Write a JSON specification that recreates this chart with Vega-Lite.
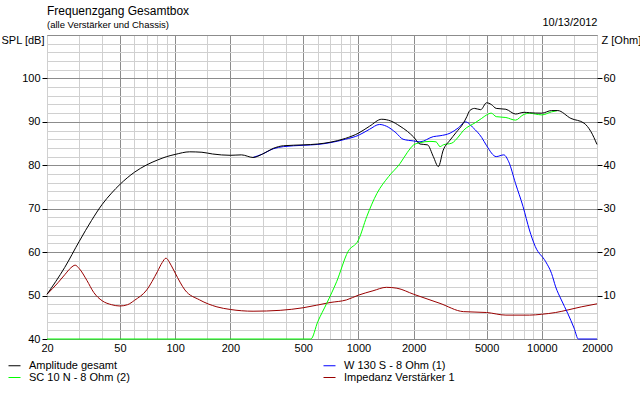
{
"$schema": "https://vega.github.io/schema/vega-lite/v6.json",
"width": 550, "height": 304,
"autosize": {"type": "none"},
"padding": {"left": 47, "top": 35, "right": 43, "bottom": 54},
"background": "#ffffff",
"config": {
  "font": "Liberation Sans",
  "view": {"stroke": "#7a7a7a", "strokeWidth": 1},
  "axis": {"labelFont": "Liberation Sans", "labelFontSize": 11, "labelColor": "#000000", "titleFont": "Liberation Sans", "titleFontSize": 11, "titleFontWeight": "normal", "titleColor": "#000000", "domain": false, "gridWidth": 1, "gridOpacity": 1}
},
"title": {"text": "Frequenzgang Gesamtbox", "subtitle": "(alle Verstärker und Chassis)", "anchor": "start", "frame": "group", "fontSize": 12, "fontWeight": "normal", "font": "Liberation Sans", "color": "#000000", "subtitleFontSize": 9.5, "subtitleColor": "#000000", "subtitleFont": "Liberation Sans", "subtitlePadding": 2, "offset": -14},
"datasets": {"d": [
{"s":"Amplitude gesamt","f":20,"v":50.3},{"s":"Amplitude gesamt","f":25,"v":56.5},{"s":"Amplitude gesamt","f":30,"v":62.5},{"s":"Amplitude gesamt","f":35,"v":67.3},{"s":"Amplitude gesamt","f":40,"v":71.0},{"s":"Amplitude gesamt","f":45,"v":73.6},{"s":"Amplitude gesamt","f":50,"v":75.6},{"s":"Amplitude gesamt","f":60,"v":78.4},{"s":"Amplitude gesamt","f":70,"v":80.1},{"s":"Amplitude gesamt","f":80,"v":81.2},{"s":"Amplitude gesamt","f":90,"v":82.0},{"s":"Amplitude gesamt","f":100,"v":82.5},{"s":"Amplitude gesamt","f":120,"v":83.1},{"s":"Amplitude gesamt","f":140,"v":83.0},{"s":"Amplitude gesamt","f":160,"v":82.6},{"s":"Amplitude gesamt","f":200,"v":82.3},{"s":"Amplitude gesamt","f":230,"v":82.4},{"s":"Amplitude gesamt","f":266,"v":81.8},{"s":"Amplitude gesamt","f":300,"v":82.6},{"s":"Amplitude gesamt","f":343,"v":83.9},{"s":"Amplitude gesamt","f":390,"v":84.5},{"s":"Amplitude gesamt","f":500,"v":84.7},{"s":"Amplitude gesamt","f":600,"v":84.9},{"s":"Amplitude gesamt","f":700,"v":85.3},{"s":"Amplitude gesamt","f":850,"v":86.2},{"s":"Amplitude gesamt","f":1000,"v":87.4},{"s":"Amplitude gesamt","f":1150,"v":89.0},{"s":"Amplitude gesamt","f":1338,"v":90.6},{"s":"Amplitude gesamt","f":1500,"v":90.2},{"s":"Amplitude gesamt","f":1685,"v":89.0},{"s":"Amplitude gesamt","f":1850,"v":87.8},{"s":"Amplitude gesamt","f":2000,"v":86.5},{"s":"Amplitude gesamt","f":2166,"v":84.9},{"s":"Amplitude gesamt","f":2380,"v":84.7},{"s":"Amplitude gesamt","f":2560,"v":82.0},{"s":"Amplitude gesamt","f":2727,"v":79.7},{"s":"Amplitude gesamt","f":2900,"v":83.5},{"s":"Amplitude gesamt","f":3160,"v":85.8},{"s":"Amplitude gesamt","f":3400,"v":87.5},{"s":"Amplitude gesamt","f":3733,"v":89.7},{"s":"Amplitude gesamt","f":3900,"v":91.2},{"s":"Amplitude gesamt","f":4046,"v":92.6},{"s":"Amplitude gesamt","f":4300,"v":93.1},{"s":"Amplitude gesamt","f":4640,"v":92.8},{"s":"Amplitude gesamt","f":5000,"v":94.4},{"s":"Amplitude gesamt","f":5300,"v":94.0},{"s":"Amplitude gesamt","f":5640,"v":93.1},{"s":"Amplitude gesamt","f":6370,"v":92.9},{"s":"Amplitude gesamt","f":7190,"v":91.8},{"s":"Amplitude gesamt","f":8000,"v":92.2},{"s":"Amplitude gesamt","f":8560,"v":92.1},{"s":"Amplitude gesamt","f":10000,"v":92.0},{"s":"Amplitude gesamt","f":11300,"v":92.6},{"s":"Amplitude gesamt","f":12200,"v":92.6},{"s":"Amplitude gesamt","f":14400,"v":90.8},{"s":"Amplitude gesamt","f":17000,"v":89.7},{"s":"Amplitude gesamt","f":18500,"v":87.8},{"s":"Amplitude gesamt","f":20000,"v":84.8},
{"s":"W 130 S - 8 Ohm (1)","f":266,"v":81.8},{"s":"W 130 S - 8 Ohm (1)","f":300,"v":82.6},{"s":"W 130 S - 8 Ohm (1)","f":343,"v":83.8},{"s":"W 130 S - 8 Ohm (1)","f":390,"v":84.3},{"s":"W 130 S - 8 Ohm (1)","f":500,"v":84.6},{"s":"W 130 S - 8 Ohm (1)","f":600,"v":84.8},{"s":"W 130 S - 8 Ohm (1)","f":700,"v":85.2},{"s":"W 130 S - 8 Ohm (1)","f":850,"v":86.0},{"s":"W 130 S - 8 Ohm (1)","f":1000,"v":86.9},{"s":"W 130 S - 8 Ohm (1)","f":1150,"v":88.3},{"s":"W 130 S - 8 Ohm (1)","f":1300,"v":89.4},{"s":"W 130 S - 8 Ohm (1)","f":1420,"v":89.0},{"s":"W 130 S - 8 Ohm (1)","f":1600,"v":87.5},{"s":"W 130 S - 8 Ohm (1)","f":1750,"v":86.0},{"s":"W 130 S - 8 Ohm (1)","f":2000,"v":85.6},{"s":"W 130 S - 8 Ohm (1)","f":2166,"v":85.4},{"s":"W 130 S - 8 Ohm (1)","f":2560,"v":86.6},{"s":"W 130 S - 8 Ohm (1)","f":2785,"v":86.8},{"s":"W 130 S - 8 Ohm (1)","f":3160,"v":87.4},{"s":"W 130 S - 8 Ohm (1)","f":3500,"v":88.6},{"s":"W 130 S - 8 Ohm (1)","f":3830,"v":90.0},{"s":"W 130 S - 8 Ohm (1)","f":4230,"v":88.6},{"s":"W 130 S - 8 Ohm (1)","f":4700,"v":86.4},{"s":"W 130 S - 8 Ohm (1)","f":5000,"v":84.5},{"s":"W 130 S - 8 Ohm (1)","f":5640,"v":82.0},{"s":"W 130 S - 8 Ohm (1)","f":6200,"v":82.4},{"s":"W 130 S - 8 Ohm (1)","f":6600,"v":80.8},{"s":"W 130 S - 8 Ohm (1)","f":7190,"v":75.8},{"s":"W 130 S - 8 Ohm (1)","f":7900,"v":70.5},{"s":"W 130 S - 8 Ohm (1)","f":8560,"v":65.1},{"s":"W 130 S - 8 Ohm (1)","f":9210,"v":61.3},{"s":"W 130 S - 8 Ohm (1)","f":10500,"v":57.8},{"s":"W 130 S - 8 Ohm (1)","f":11300,"v":55.1},{"s":"W 130 S - 8 Ohm (1)","f":11900,"v":52.0},{"s":"W 130 S - 8 Ohm (1)","f":12780,"v":49.0},{"s":"W 130 S - 8 Ohm (1)","f":13850,"v":45.9},{"s":"W 130 S - 8 Ohm (1)","f":15000,"v":42.5},{"s":"W 130 S - 8 Ohm (1)","f":15820,"v":40.0},{"s":"W 130 S - 8 Ohm (1)","f":20000,"v":40.0},
{"s":"SC 10 N - 8 Ohm (2)","f":20,"v":40.0},{"s":"SC 10 N - 8 Ohm (2)","f":550,"v":40.0},{"s":"SC 10 N - 8 Ohm (2)","f":600,"v":44.0},{"s":"SC 10 N - 8 Ohm (2)","f":671,"v":48.2},{"s":"SC 10 N - 8 Ohm (2)","f":760,"v":53.2},{"s":"SC 10 N - 8 Ohm (2)","f":876,"v":60.1},{"s":"SC 10 N - 8 Ohm (2)","f":1000,"v":62.8},{"s":"SC 10 N - 8 Ohm (2)","f":1110,"v":68.2},{"s":"SC 10 N - 8 Ohm (2)","f":1260,"v":73.5},{"s":"SC 10 N - 8 Ohm (2)","f":1460,"v":77.4},{"s":"SC 10 N - 8 Ohm (2)","f":1685,"v":80.4},{"s":"SC 10 N - 8 Ohm (2)","f":1850,"v":83.0},{"s":"SC 10 N - 8 Ohm (2)","f":2000,"v":84.7},{"s":"SC 10 N - 8 Ohm (2)","f":2166,"v":85.2},{"s":"SC 10 N - 8 Ohm (2)","f":2455,"v":85.5},{"s":"SC 10 N - 8 Ohm (2)","f":2650,"v":85.4},{"s":"SC 10 N - 8 Ohm (2)","f":2785,"v":84.3},{"s":"SC 10 N - 8 Ohm (2)","f":2900,"v":84.7},{"s":"SC 10 N - 8 Ohm (2)","f":3230,"v":85.1},{"s":"SC 10 N - 8 Ohm (2)","f":3500,"v":86.5},{"s":"SC 10 N - 8 Ohm (2)","f":3733,"v":88.0},{"s":"SC 10 N - 8 Ohm (2)","f":4330,"v":89.8},{"s":"SC 10 N - 8 Ohm (2)","f":4700,"v":90.8},{"s":"SC 10 N - 8 Ohm (2)","f":5000,"v":91.6},{"s":"SC 10 N - 8 Ohm (2)","f":5300,"v":92.0},{"s":"SC 10 N - 8 Ohm (2)","f":5640,"v":91.2},{"s":"SC 10 N - 8 Ohm (2)","f":6370,"v":91.0},{"s":"SC 10 N - 8 Ohm (2)","f":7190,"v":90.4},{"s":"SC 10 N - 8 Ohm (2)","f":7900,"v":91.6},{"s":"SC 10 N - 8 Ohm (2)","f":8560,"v":92.0},{"s":"SC 10 N - 8 Ohm (2)","f":9210,"v":91.8},{"s":"SC 10 N - 8 Ohm (2)","f":10000,"v":91.6},{"s":"SC 10 N - 8 Ohm (2)","f":11300,"v":92.3},{"s":"SC 10 N - 8 Ohm (2)","f":12200,"v":92.6},
{"s":"Impedanz Verstärker 1","f":20,"v":10.3},{"s":"Impedanz Verstärker 1","f":23,"v":13.0},{"s":"Impedanz Verstärker 1","f":25,"v":14.8},{"s":"Impedanz Verstärker 1","f":27,"v":16.4},{"s":"Impedanz Verstärker 1","f":28.5,"v":17.0},{"s":"Impedanz Verstärker 1","f":30,"v":16.2},{"s":"Impedanz Verstärker 1","f":33,"v":13.5},{"s":"Impedanz Verstärker 1","f":36,"v":10.7},{"s":"Impedanz Verstärker 1","f":40,"v":8.8},{"s":"Impedanz Verstärker 1","f":45,"v":7.9},{"s":"Impedanz Verstärker 1","f":50,"v":7.6},{"s":"Impedanz Verstärker 1","f":55,"v":7.9},{"s":"Impedanz Verstärker 1","f":60,"v":8.9},{"s":"Impedanz Verstärker 1","f":70,"v":11.3},{"s":"Impedanz Verstärker 1","f":80,"v":15.5},{"s":"Impedanz Verstärker 1","f":85,"v":17.6},{"s":"Impedanz Verstärker 1","f":89,"v":18.6},{"s":"Impedanz Verstärker 1","f":95,"v":17.0},{"s":"Impedanz Verstärker 1","f":100,"v":15.2},{"s":"Impedanz Verstärker 1","f":113,"v":11.3},{"s":"Impedanz Verstärker 1","f":136,"v":9.0},{"s":"Impedanz Verstärker 1","f":169,"v":7.4},{"s":"Impedanz Verstärker 1","f":200,"v":6.8},{"s":"Impedanz Verstärker 1","f":266,"v":6.4},{"s":"Impedanz Verstärker 1","f":374,"v":6.6},{"s":"Impedanz Verstärker 1","f":500,"v":7.2},{"s":"Impedanz Verstärker 1","f":700,"v":8.4},{"s":"Impedanz Verstärker 1","f":860,"v":9.0},{"s":"Impedanz Verstärker 1","f":1000,"v":10.1},{"s":"Impedanz Verstärker 1","f":1200,"v":11.1},{"s":"Impedanz Verstärker 1","f":1420,"v":11.9},{"s":"Impedanz Verstärker 1","f":1620,"v":11.7},{"s":"Impedanz Verstärker 1","f":2000,"v":10.3},{"s":"Impedanz Verstärker 1","f":2455,"v":9.0},{"s":"Impedanz Verstärker 1","f":2785,"v":8.2},{"s":"Impedanz Verstärker 1","f":3733,"v":6.3},{"s":"Impedanz Verstärker 1","f":5000,"v":6.1},{"s":"Impedanz Verstärker 1","f":6370,"v":5.5},{"s":"Impedanz Verstärker 1","f":8560,"v":5.5},{"s":"Impedanz Verstärker 1","f":10000,"v":5.7},{"s":"Impedanz Verstärker 1","f":11900,"v":6.1},{"s":"Impedanz Verstärker 1","f":13900,"v":6.7},{"s":"Impedanz Verstärker 1","f":16400,"v":7.4},{"s":"Impedanz Verstärker 1","f":20000,"v":8.1}
]},
"layer": [
  {
    "data": {"name": "d"},
    "transform": [{"filter": "datum.s === 'Impedanz Verstärker 1'"}],
    "mark": {"type": "line", "strokeWidth": 1, "interpolate": "monotone"},
    "encoding": {
      "x": {"field": "f", "type": "quantitative", "scale": {"type": "log", "domain": [20, 20000], "nice": false},
            "axis": {"orient": "top", "title": "10/13/2012", "labels": false, "ticks": false, "domain": false, "grid": false, "titleAnchor": "end", "titleAlign": "right", "titleBaseline": "middle", "titleX": 550, "titleY": -13, "titleAngle": 0}},
      "y": {"field": "v", "type": "quantitative", "scale": {"domain": [0, 70], "nice": false, "zero": false},
            "axis": {"orient": "right", "values": [10, 20, 30, 40, 50, 60], "grid": false, "title": "Z [Ohm]", "titleAngle": 0, "titleAlign": "left", "titleBaseline": "middle", "titleX": 4, "titleY": 5, "tickSize": 5, "tickColor": "#000000", "labelPadding": 1}},
      "color": {"field": "s", "type": "nominal",
            "scale": {"domain": ["Amplitude gesamt", "SC 10 N - 8 Ohm (2)", "W 130 S - 8 Ohm (1)", "Impedanz Verstärker 1"], "range": ["#000000", "#00ff00", "#0000ff", "#990000"]},
            "legend": {"title": null, "orient": "none", "legendX": -39, "legendY": 324, "columns": 2, "symbolType": "stroke", "symbolSize": 144, "symbolStrokeWidth": 1, "labelFontSize": 11, "labelFont": "Liberation Sans", "labelColor": "#000000", "labelOffset": 8, "columnPadding": 191, "rowPadding": 0, "padding": 0}}
    }
  },
  {
    "data": {"name": "d"},
    "encoding": {
      "x": {"field": "f", "type": "quantitative", "scale": {"type": "log", "domain": [20, 20000], "nice": false},
            "axis": {"orient": "bottom", "title": null, "values": [20,30,40,50,60,70,80,90,100,150,200,300,400,500,600,700,800,900,1000,1500,2000,3000,4000,5000,6000,7000,8000,9000,10000,15000,20000],
                     "labelExpr": "(datum.value == 20 || datum.value == 50 || datum.value == 100 || datum.value == 200 || datum.value == 500 || datum.value == 1000 || datum.value == 2000 || datum.value == 5000 || datum.value == 10000 || datum.value == 20000) ? datum.value + '' : ''",
                     "labelOverlap": false, "labelFlush": false, "ticks": false, "labelPadding": 3, "grid": true,
                     "gridColor": {"condition": {"test": "datum.value == 50 || datum.value == 100 || datum.value == 200 || datum.value == 500 || datum.value == 1000 || datum.value == 2000 || datum.value == 5000 || datum.value == 10000", "value": "#8c8c8c"}, "value": "#d0d0d0"}}},
      "y": {"field": "v", "type": "quantitative", "scale": {"domain": [40, 110], "nice": false, "zero": false},
            "axis": {"orient": "left", "title": "SPL [dB]", "titleAngle": 0, "titleAlign": "right", "titleBaseline": "middle", "titleX": -3, "titleY": 5,
                     "values": [40,42,44,46,48,50,52,54,56,58,60,62,64,66,68,70,72,74,76,78,80,82,84,86,88,90,92,94,96,98,100,102,104,106,108,110],
                     "labelExpr": "datum.value % 10 === 0 && datum.value < 110 ? datum.value + '' : ''",
                     "labelOverlap": false, "tickSize": 5, "labelPadding": 2,
                     "tickColor": {"condition": {"test": "datum.value % 10 === 0 && datum.value < 110", "value": "#000000"}, "value": "transparent"},
                     "grid": true,
                     "gridColor": {"condition": {"test": "datum.value % 10 === 0", "value": "#8c8c8c"}, "value": "#d0d0d0"}}},
      "color": {"field": "s", "type": "nominal",
            "scale": {"domain": ["Amplitude gesamt", "SC 10 N - 8 Ohm (2)", "W 130 S - 8 Ohm (1)", "Impedanz Verstärker 1"], "range": ["#000000", "#00ff00", "#0000ff", "#990000"]},
            "legend": {"title": null, "orient": "none", "legendX": -39, "legendY": 324, "columns": 2, "symbolType": "stroke", "symbolSize": 144, "symbolStrokeWidth": 1, "labelFontSize": 11, "labelFont": "Liberation Sans", "labelColor": "#000000", "labelOffset": 8, "columnPadding": 191, "rowPadding": 0, "padding": 0}}
    },
    "layer": [
      {"transform": [{"filter": "datum.s === 'W 130 S - 8 Ohm (1)'"}], "mark": {"type": "line", "strokeWidth": 1, "interpolate": "monotone"}},
      {"transform": [{"filter": "datum.s === 'SC 10 N - 8 Ohm (2)'"}], "mark": {"type": "line", "strokeWidth": 1, "interpolate": "monotone"}},
      {"transform": [{"filter": "datum.s === 'Amplitude gesamt'"}], "mark": {"type": "line", "strokeWidth": 1, "interpolate": "monotone"}}
    ]
  }
],
"resolve": {"scale": {"y": "independent"}, "axis": {"x": "independent"}}
}
